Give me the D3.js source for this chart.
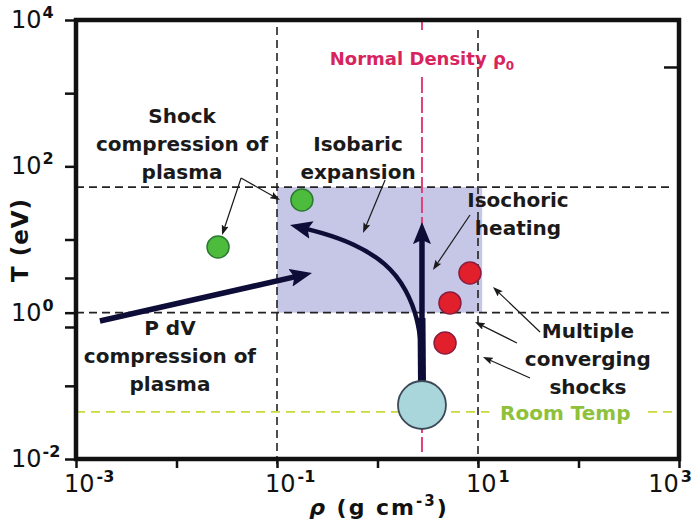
<!DOCTYPE html>
<html><head><meta charset="utf-8">
<script src="https://cdn.jsdelivr.net/npm/d3@7"></script>
<style>body{margin:0;background:#fff} svg{display:block} text{font-family:"DejaVu Sans",sans-serif}</style>
</head><body><svg id="c" width="694" height="523"></svg>
<script>
// ---- data (density rho in g/cm^3, temperature T in eV) ----
const xMajorTicks = [1e-3, 1e-1, 1e1, 1e3];
const xTickExponents = ["-3", "-1", "1", "3"];
const xMinorTicks = [1e-2, 1e0, 1e2];
const yMajorTicks = [1e-2, 1e0, 1e2, 1e4];
const yTickExponents = ["-2", "0", "2", "4"];
const yMinorTicks = [1e-1, 0.637, 2.98, 1e1, 1e3];
const yRightTicks = [2280];

const rho0 = 2.77;             // normal density
const roomTemp = 0.044;        // eV
const regionRho = [0.1, 11];
const regionT = [1, 52];
const guideRho = [0.1, 10];
const guideT = [1, 52];
const guideRhoTop = [8000, 7300];
const guideBottomT = 0.0085;
const pinkSegments = [[1e4, 7300], [1660, 0.0125]];
const roomSegments = [[1e-3, 13], [492, 850]];

const shockPoints = [[0.177, 34.7], [0.0259, 7.9]];
const convergingShocks = [[8.32, 3.49], [5.26, 1.36], [4.70, 0.385]];
const initialState = [2.77, 0.0547];

const stemPath = [[2.77, 0.113], [2.74, 0.845]];
const isobaricPath = [[2.71, 0.361], [2.53, 0.794], [1.97, 2.04], [1.24, 4.78], [0.570, 8.96], [0.268, 12.6], [0.135, 15.8]];
const isochoricPath = [[2.77, 0.113], [2.77, 17.3]];
const pdvPath = [[0.00173, 0.769], [0.223, 3.49]];

const pointers = [
  [[0.0439, 69.2], [0.107, 34.7]],
  [[0.0439, 69.2], [0.0284, 11.5]],
  [[1.19, 65], [0.718, 12.3]],
  [[8.32, 21.6], [3.56, 3.83]],
  [[41.4, 0.545], [14.1, 2.24]],
  [[24.4, 0.385], [9.33, 0.745]],
  [[32.9, 0.128], [11.2, 0.248]]
];

const notes = [
  {lines: ["Shock", "compression of", "plasma"], at: [0.01135, 391]},
  {lines: ["Isobaric", "expansion"], at: [0.640, 162]},
  {lines: ["Isochoric", "heating"], at: [25.0, 27.8]},
  {lines: ["P dV", "compression of", "plasma"], at: [0.00861, 0.495]},
  {lines: ["Multiple", "converging", "shocks"], at: [124, 0.451]}
];
const densityLabelT = 2430;
const roomLabelAt = [16.6, 0.0341];

// ---- drawing ----
const svg = d3.select("#c");
const x = d3.scaleLog().domain([1e-3, 1e3]).range([76, 679]);
const y = d3.scaleLog().domain([1e-2, 1e4]).range([459, 20]);
const P = d => [x(d[0]), y(d[1])];
const NAVY = "#0d0d38";

const defs = svg.append("defs");
function marker(id, len, half, back, color) {
  defs.append("marker").attr("id", id)
    .attr("viewBox", `${-len} ${-half} ${len} ${2 * half}`)
    .attr("refX", -back).attr("refY", 0)
    .attr("markerUnits", "userSpaceOnUse")
    .attr("markerWidth", len).attr("markerHeight", 2 * half)
    .attr("orient", "auto")
    .append("path").attr("d", `M0,0L${-len},${-half}L${-len * 0.82},0L${-len},${half}Z`).attr("fill", color);
}
marker("big", 22, 9, 10, NAVY);
marker("small", 10, 3.6, 3, "#1a1a1a");

function trim(pts, t) {
  const p = pts.map(P);
  const a = p[p.length - 2], b = p[p.length - 1];
  const dx = b[0] - a[0], dy = b[1] - a[1], L = Math.hypot(dx, dy);
  p[p.length - 1] = [b[0] - dx / L * t, b[1] - dy / L * t];
  return p;
}

// shaded region
svg.append("rect")
  .attr("x", x(regionRho[0])).attr("y", y(regionT[1]))
  .attr("width", x(regionRho[1]) - x(regionRho[0]))
  .attr("height", y(regionT[0]) - y(regionT[1]))
  .attr("fill", "#c6c6e6");

// dashed guides
const g = svg.append("g").attr("stroke", "#222").attr("stroke-width", 1.6).attr("stroke-dasharray", "8,5").attr("fill", "none");
guideT.forEach(t => g.append("line").attr("x1", x(1e-3)).attr("x2", x(813)).attr("y1", y(t)).attr("y2", y(t)));
guideRho.forEach((r, i) => g.append("line").attr("x1", x(r)).attr("x2", x(r)).attr("y1", y(guideRhoTop[i])).attr("y2", y(guideBottomT)));

// normal density line
pinkSegments.forEach(s => svg.append("line").attr("x1", x(rho0)).attr("x2", x(rho0)).attr("y1", y(s[0])).attr("y2", y(s[1]))
  .attr("stroke", "#e0407a").attr("stroke-width", 2).attr("stroke-dasharray", "16,4"));
// room temperature line
roomSegments.forEach(s => svg.append("line").attr("x1", x(s[0])).attr("x2", x(s[1])).attr("y1", y(roomTemp)).attr("y2", y(roomTemp))
  .attr("stroke", "#c9d93a").attr("stroke-width", 1.6).attr("stroke-dasharray", "9,6"));

// axes
const axL = svg.append("g").attr("transform", "translate(76,0)");
axL.call(d3.axisLeft(y).tickValues(yMajorTicks.concat(yMinorTicks)).tickSize(11).tickFormat(""));
const axB = svg.append("g").attr("transform", "translate(0,459)");
axB.call(d3.axisBottom(x).tickValues(xMajorTicks.concat(xMinorTicks)).tickSize(9).tickFormat(""));
const axR = svg.append("g").attr("transform", "translate(679,0)");
axR.call(d3.axisLeft(y).tickValues(yRightTicks).tickSize(15).tickFormat(""));
[axL, axB, axR].forEach(a => { a.select(".domain").remove(); a.selectAll("line").attr("stroke", "#111").attr("stroke-width", 2.5); });

svg.append("rect").attr("x", 76).attr("y", 20).attr("width", 603).attr("height", 439)
  .attr("fill", "none").attr("stroke", "#111").attr("stroke-width", 4.5);

// tick labels
yMajorTicks.forEach((t, i) => {
  const tx = svg.append("text").attr("x", 11).attr("y", y(t) + 8).attr("font-size", 24).attr("fill", "#111");
  tx.append("tspan").text("10");
  tx.append("tspan").attr("dy", -10).attr("dx", 1).attr("font-size", 16).attr("font-weight", "bold").text(yTickExponents[i]);
});
xMajorTicks.forEach((t, i) => {
  const tx = svg.append("text").attr("x", x(t) - 12).attr("y", 492).attr("font-size", 24).attr("fill", "#111");
  tx.append("tspan").text("10");
  tx.append("tspan").attr("dy", -10).attr("dx", 2).attr("font-size", 16).attr("font-weight", "bold").text(xTickExponents[i]);
  const bb = tx.node().getBBox();
  if (bb.x + bb.width > 692) tx.attr("x", x(t) - 12 - (bb.x + bb.width - 692));
});

// axis titles
svg.append("text").attr("transform", "translate(28,240) rotate(-90)").attr("text-anchor", "middle")
  .attr("font-size", 23).attr("font-weight", "bold").attr("fill", "#111").attr("letter-spacing", 1).text("T (eV)");
const xt = svg.append("text").attr("x", 379).attr("y", 515).attr("text-anchor", "middle")
  .attr("font-size", 22).attr("font-weight", "bold").attr("fill", "#111").attr("letter-spacing", 2);
xt.append("tspan").attr("font-style", "italic").text("ρ");
xt.append("tspan").text(" (g cm");
xt.append("tspan").attr("dy", -9).attr("font-size", 15).text("-3");
xt.append("tspan").attr("dy", 9).text(")");

// thin pointer arrows
pointers.forEach(p => svg.append("path").attr("d", d3.line()(trim(p, 3)))
  .attr("stroke", "#1a1a1a").attr("stroke-width", 1.2).attr("fill", "none").attr("marker-end", "url(#small)"));

// thick process arrows
svg.append("path").attr("d", d3.line()(stemPath.map(P))).attr("stroke", NAVY).attr("stroke-width", 8).attr("fill", "none");
svg.append("path").attr("d", d3.line().curve(d3.curveBasis)(trim(isobaricPath, 10)))
  .attr("stroke", NAVY).attr("stroke-width", 4.5).attr("fill", "none").attr("marker-end", "url(#big)");
svg.append("path").attr("d", d3.line()(trim(isochoricPath, 10)))
  .attr("stroke", NAVY).attr("stroke-width", 5.5).attr("fill", "none").attr("marker-end", "url(#big)");
svg.append("path").attr("d", d3.line()(trim(pdvPath, 10)))
  .attr("stroke", NAVY).attr("stroke-width", 5.5).attr("fill", "none").attr("marker-end", "url(#big)");

// states
svg.selectAll(".gs").data(shockPoints).join("circle")
  .attr("cx", d => x(d[0])).attr("cy", d => y(d[1])).attr("r", 11)
  .attr("fill", "#4dbb3c").attr("stroke", "#2b7a34").attr("stroke-width", 1.5);
svg.selectAll(".rs").data(convergingShocks).join("circle")
  .attr("cx", d => x(d[0])).attr("cy", d => y(d[1])).attr("r", 11)
  .attr("fill", "#e2202c").attr("stroke", "#8c1c40").attr("stroke-width", 1.5);
svg.append("circle").attr("cx", x(initialState[0])).attr("cy", y(initialState[1])).attr("r", 24)
  .attr("fill", "#a8d6da").attr("stroke", "#3c4a58").attr("stroke-width", 1.8);

// annotation text
notes.forEach(n => {
  const t = svg.append("text").attr("text-anchor", "middle").attr("font-size", 20).attr("font-weight", "bold").attr("fill", "#1a1a1a");
  n.lines.forEach((l, i) => t.append("tspan").attr("x", x(n.at[0])).attr("y", y(n.at[1]) + i * 28).text(l));
});
const dt = svg.append("text").attr("x", x(rho0)).attr("y", y(densityLabelT)).attr("text-anchor", "middle")
  .attr("font-size", 18).attr("font-weight", "bold").attr("fill", "#d8245e");
dt.append("tspan").text("Normal Density ρ");
dt.append("tspan").attr("dy", 5).attr("font-size", 12).text("0");
svg.append("text").attr("x", x(roomLabelAt[0])).attr("y", y(roomLabelAt[1]))
  .attr("font-size", 20).attr("font-weight", "bold").attr("fill", "#8fc13a").text("Room Temp");
</script></body></html>
